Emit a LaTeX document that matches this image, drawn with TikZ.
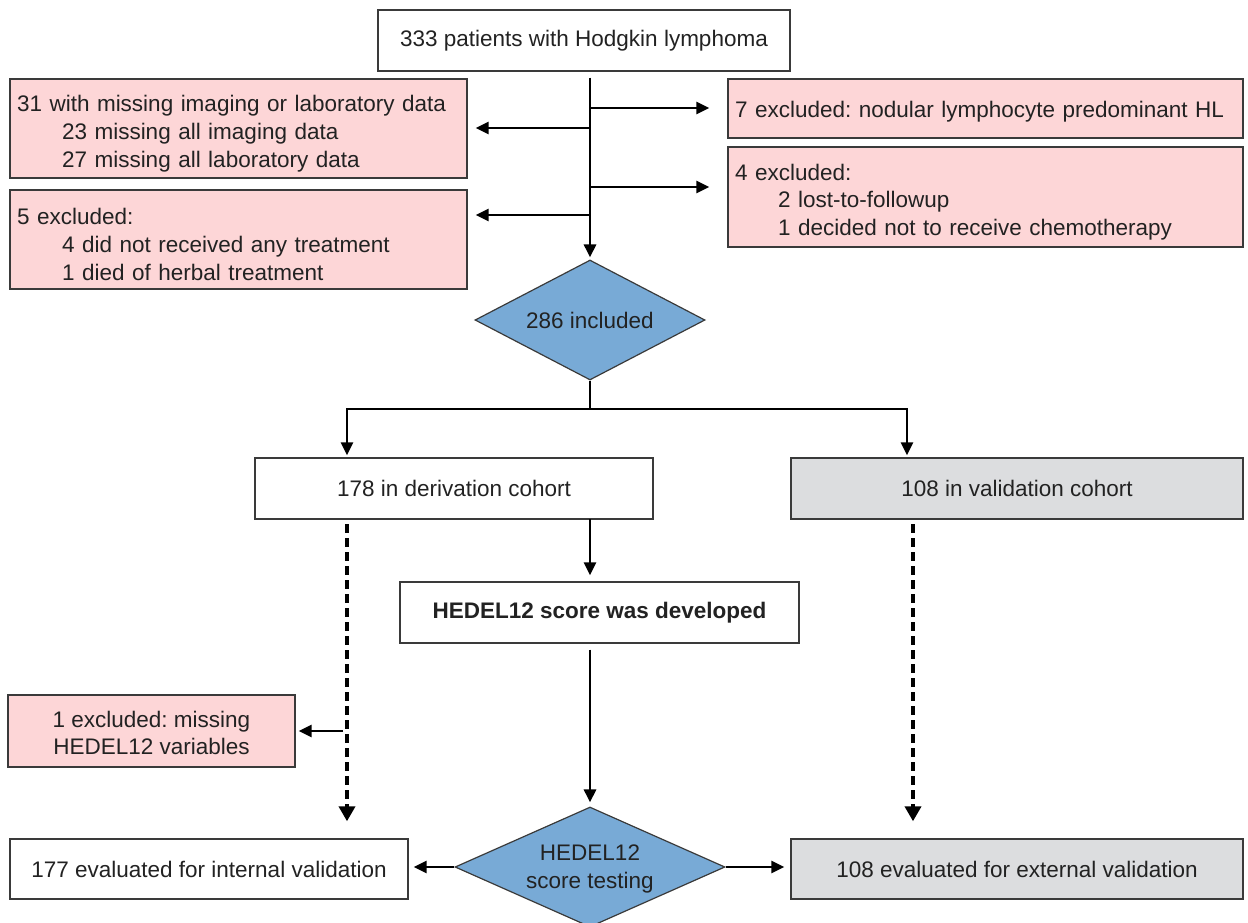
\documentclass[tikz,border=0pt]{standalone}
\usepackage{fontspec}
\setmainfont{Liberation Sans}
\usetikzlibrary{arrows.meta,shapes.geometric}
\frenchspacing

\definecolor{ink}{HTML}{222222}
\definecolor{edge}{HTML}{3A3A3A}
\definecolor{exclfill}{HTML}{FDD6D7}
\definecolor{greyfill}{HTML}{DCDDDF}
\definecolor{decfill}{HTML}{78AAD6}

\begin{document}
\begin{tikzpicture}[x=1pt,y=-1pt,
  every node/.style={font=\fontsize{22.5}{28}\selectfont, text=ink},
  box/.style={draw=edge, line width=1.4pt, fill=white, inner xsep=7pt, inner ysep=0pt, align=center},
  exclbox/.style={box, fill=exclfill, align=left},
  greybox/.style={box, fill=greyfill},
  decision/.style={diamond, draw=edge, line width=1.2pt, fill=decfill, inner sep=0pt, align=center},
  link/.style={line width=2.9pt, draw=black},
  arr/.style={link, -{Triangle[length=13pt,width=12pt]}},
  dasharr/.style={line width=3.8pt, dash pattern=on 9pt off 5pt, -{Triangle[length=15pt,width=16pt]}}
]
\useasboundingbox (0,0) rectangle (1248,922);

% --- boxes ---
\node[box, minimum width=412pt, minimum height=61pt] (top) at (584,40.5) {333 patients with Hodgkin lymphoma};

\node[exclbox, text width=443pt, minimum height=99pt] (lx1) at (238.5,128.5)
  {\rule{0pt}{26pt}31 with missing imaging or laboratory data\\
   \hspace*{45pt}23 missing all imaging data\\
   \hspace*{45pt}27 missing all laboratory data};
\node[exclbox, text width=443pt, minimum height=99pt] (lx2) at (238.5,239.5)
  {\rule{0pt}{26pt}5 excluded:\\
   \hspace*{45pt}4 did not received any treatment\\
   \hspace*{45pt}1 died of herbal treatment};

\node[exclbox, text width=501pt, minimum height=59pt] (rx1) at (985.5,108.5)
  {\rule{0pt}{22pt}7 excluded: nodular lymphocyte predominant HL};
\node[exclbox, text width=501pt, minimum height=100pt, font=\fontsize{22.5}{27.5}\selectfont] (rx2) at (985.5,197)
  {\rule{0pt}{26pt}4 excluded:\\
   \hspace*{43pt}2 lost-to-followup\\
   \hspace*{43pt}1 decided not to receive chemotherapy};

\node[decision, minimum width=230pt, minimum height=120pt, aspect=1.92] (inc) at (590,320) {286 included};

\node[box, minimum width=398pt, minimum height=61pt] (der) at (454,488.5) {178 in derivation cohort};
\node[greybox, minimum width=452pt, minimum height=61pt] (val) at (1017,488.5) {108 in validation cohort};

\node[box, minimum width=399pt, minimum height=61pt, font=\fontsize{22.5}{28}\selectfont\bfseries] (dev) at (599.5,612.5) {HEDEL12 score was developed};

\node[box, fill=exclfill, minimum width=287pt, minimum height=72pt, font=\fontsize{22.5}{27}\selectfont] (exc) at (151.5,731)
  {\rule{0pt}{20pt}1 excluded: missing\\HEDEL12 variables};

\node[decision, minimum width=270pt, minimum height=120pt, aspect=2.25, font=\fontsize{22.5}{28}\selectfont] (test) at (590,867)
  {\rule{0pt}{20pt}HEDEL12\\score testing};

\node[box, minimum width=398pt, minimum height=60pt] (int) at (209,869) {177 evaluated for internal validation};
\node[greybox, minimum width=452pt, minimum height=60pt] (ext) at (1017,869) {108 evaluated for external validation};

% --- branch points on the connectors ---
\coordinate (r1) at (590,108);
\coordinate (l1) at (590,128);
\coordinate (r2) at (590,187);
\coordinate (l2) at (590,215);
\coordinate (split) at (590,409);
\coordinate (splitL) at (347,409);
\coordinate (splitR) at (907,409);
\coordinate (derOut) at (590,519);
\coordinate (dashL) at (347,519);
\coordinate (dashR) at (913,519);
\coordinate (exJoin) at (343,731);

% --- connectors ---
\draw[arr, shorten <=6pt, shorten >=2pt] (top.south -| inc.north) -- (inc.north);
\draw[arr, shorten >=18pt] (r1) -- (r1 -| rx1.west);
\draw[arr, shorten >=18pt] (r2) -- (r2 -| rx2.west);
\draw[arr, shorten >=8pt] (l1) -- (l1 -| lx1.east);
\draw[arr, shorten >=8pt] (l2) -- (l2 -| lx2.east);

\draw[link] (inc.south) -- (split);
\draw[arr, shorten >=2pt] (split) -- (splitL) -- (splitL |- der.north);
\draw[arr, shorten >=2pt] (split) -- (splitR) -- (splitR |- val.north);

\draw[arr, shorten >=6pt] (derOut) -- (derOut |- dev.north);
\draw[arr, shorten <=6pt, shorten >=4pt] (dev.south -| test.north) -- (test.north);

\draw[dasharr, shorten <=5pt, shorten >=17pt] (dashL) -- (dashL |- int.north);
\draw[dasharr, shorten <=5pt, shorten >=17pt] (dashR) -- (dashR |- ext.north);
\draw[arr, shorten >=3pt] (exJoin) -- (exJoin -| exc.east);

\draw[arr, shorten >=5pt] (test.west) -- (test.west -| int.east);
\draw[arr, shorten >=6pt] (test.east) -- (test.east -| ext.west);
\end{tikzpicture}
\end{document}
